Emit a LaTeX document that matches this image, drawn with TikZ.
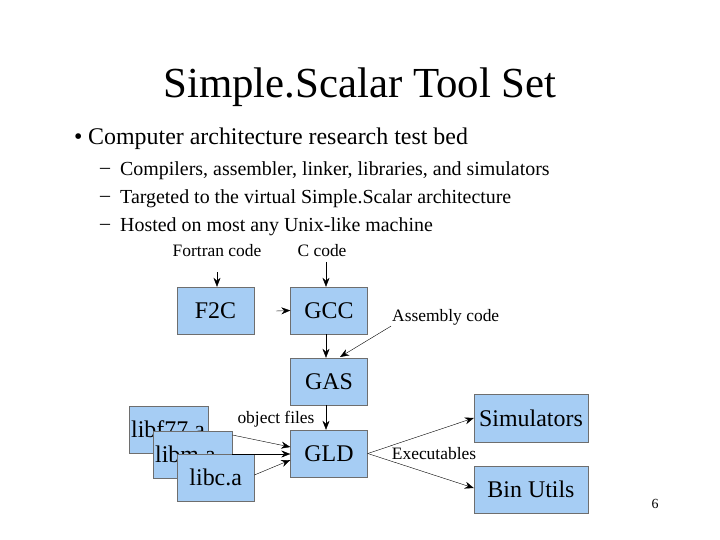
\documentclass[tikz,border=0pt]{standalone}
\usepackage{fontspec}
\setmainfont{Liberation Serif}
\usetikzlibrary{arrows.meta,positioning}
\definecolor{toolblue}{RGB}{166,205,244}
\definecolor{toolgrey}{RGB}{110,110,110}
\tikzset{
  tool/.style={draw=toolgrey,fill=toolblue,minimum width=77bp,minimum height=47bp,inner sep=0pt,font=\fontsize{24}{24}\selectfont},
  lbl/.style={font=\fontsize{17.5}{17.5}\selectfont,inner sep=1pt},
  sub/.style={anchor=west,inner sep=0pt,font=\fontsize{20}{20}\selectfont},
  flow/.style={-{Stealth[length=9bp,width=7bp]},thin},
}
\begin{document}
\begin{tikzpicture}[x=1bp,y=-1bp]
    \useasboundingbox (0,0) rectangle (720,540);
    % Title and bullets
    \node (title) at (360,87) {\fontsize{43}{43}\selectfont Simple.Scalar Tool Set};
    \node[anchor=west,inner sep=0pt,font=\fontsize{24}{24}\selectfont] (dot) at (74,139) {\textbullet};
    \node[anchor=west,inner sep=0pt,font=\fontsize{24}{24}\selectfont] (b1) at (88,139) {Computer architecture research test bed};
    \node[sub] (d1) at (100,171) {--};
    \node[sub] (s1) at (120,171) {Compilers, assembler, linker, libraries, and simulators};
    \node[sub] (d2) at (100,199) {--};
    \node[sub] (s2) at (120,199) {Targeted to the virtual Simple.Scalar architecture};
    \node[sub] (d3) at (100,227) {--};
    \node[sub] (s3) at (120,227) {Hosted on most any Unix-like machine};

    % Tool boxes
    \node[tool] (f2c) at (215.5,310.5) {F2C};
    \node[tool] (gcc) at (329,310.5) {GCC};
    \node[tool] (gas) at (329,381.5) {GAS};
    \node[tool] (gld) at (329,453.5) {GLD};
    \node[tool,minimum width=114bp,minimum height=48bp] (sim) at (531,418) {Simulators};
    \node[tool,minimum width=114bp,minimum height=47bp] (bin) at (531,489.5) {Bin Utils};

    % Libraries (stacked)
    \node[tool,anchor=north west,text width=75bp,align=left,inner xsep=2bp] (f77) at (129,406) {libf77.a};
    \node[tool,anchor=north west,text width=75bp,align=left,inner xsep=2bp] (libm) at (153,431) {libm.a};
    \node[tool,anchor=north west] (libc) at (177,454) {libc.a};

    % Labels
    \node[lbl] (fortran) at (217,251) {Fortran code};
    \node[lbl] (ccode) at (322,251) {C code};
    \node[lbl,anchor=west] (asm) at (391,317) {Assembly code};
    \node[lbl] (obj) at (276,419) {object files};
    \node[lbl] (exe) at (434,454) {Executables};
    \node (page) at (655,504) {\fontsize{14}{14}\selectfont 6};

    % Connectors
    \coordinate (ftip) at (217,272);
    \draw[flow] (ftip) -- (f2c.north -| ftip);
    \coordinate (f2ctip) at (276,311);
    \draw[flow] (f2ctip) -- (gcc.west);
    \draw[flow] (326,262) -- (gcc.north -| 326,262);
    \draw[flow] (gcc.south -| 326,0) -- (gas.north -| 326,0);
    \draw[flow] (asm.south west) -- (340,357);
    \draw[flow] (gas.south -| 326,0) -- (gld.north -| 326,0);
    \draw[flow] (libm.north east |- 0,435) -- (gld.west |- 0,447);
    \draw[flow] (libm.east |- 0,454) -- (gld.west |- 0,454);
    \draw[flow] (libc.east |- 0,475) -- (gld.west |- 0,460);
    \draw[flow] (gld.east) -- (sim.west |- 0,418);
    \draw[flow] (gld.east) -- (bin.west |- 0,488);
\end{tikzpicture}
\end{document}
